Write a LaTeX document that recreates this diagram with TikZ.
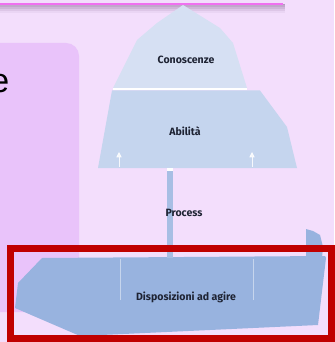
\documentclass[tikz,border=0pt]{standalone}
\usepackage{fontspec}
\setmainfont{Liberation Sans}
\newfontfamily\labelfont{Fira Sans}
\usetikzlibrary{arrows.meta}
\definecolor{slidebg}{HTML}{F3DEFC}
\definecolor{panelbg}{HTML}{E9C3FA}
\definecolor{topline}{HTML}{F070F0}
\definecolor{tipice}{HTML}{D6E0F3}
\definecolor{midice}{HTML}{C5D5EE}
\definecolor{baseice}{HTML}{98B3DF}
\definecolor{stemice}{HTML}{A7BEE4}
\definecolor{frame}{HTML}{C00000}
\definecolor{labeltext}{HTML}{1E2333}
\tikzset{
  icelabel/.style={font=\labelfont\bfseries\fontsize{9}{11}\selectfont, text=labeltext, inner sep=0pt},
  uparrow/.style={white, opacity=0.85, line width=0.6pt, -{Triangle[width=4.5pt,length=4.5pt]}}
}
\begin{document}
\begin{tikzpicture}[x=0.03cm,y=-0.03cm]
    \useasboundingbox (0,0) rectangle (334,342);
    \fill[slidebg] (0,0) rectangle (334,342);
    % header line and its shadow
    \foreach \d/\o in {5/0.35,7/0.3,9/0.25,11/0.18,13/0.1}
        \fill[black!30!panelbg, opacity=\o] (0,4.5) rectangle (285,\d);
    \fill[topline] (0,3) rectangle (283,4.6);
    % left panel, word cut off
    \fill[panelbg, rounded corners=11] (-20,43) rectangle (79,312);
    \begin{scope}
        \clip (0,0) rectangle (334,342);
        \node[anchor=east, inner sep=0pt, font=\fontsize{29}{30}\selectfont] (word) at (9.5,84) {e};
    \end{scope}
    % iceberg: tip
    \fill[tipice] (183,5) -- (220,28) -- (233,43) -- (247,88) -- (113,88) -- (137,40) -- (157,23) -- cycle;
    \fill[white] (113,88) rectangle (247,90.5);
    % iceberg: middle
    \fill[midice] (112,90.5) -- (260,90.5) -- (287,127) -- (297,168) -- (98,168) -- cycle;
    \draw[uparrow] (119,167) -- (119,152);
    \draw[uparrow] (252,167) -- (252,152);
    % iceberg: base
    \fill[baseice] (42,258) -- (325,256) -- (326,258) -- (318,325) -- (80,336) -- (15,308) -- (18,283) -- cycle;
    \fill[baseice] (306,229) -- (313,231) -- (320,235) -- (323,247) -- (322,258) -- (306,258) -- cycle;
    \draw[white, opacity=0.45, line width=0.4pt] (120,259) -- (120,300) (253,259) -- (253,300);
    % stem between the layers
    \coordinate (stemtop) at (170,169);
    \coordinate (stembot) at (170,258);
    \draw[stemice, line width=5.5] (stemtop) -- (stembot);
    \fill[white] (167,168) rectangle (173,171);
    % labels
    \node[icelabel] (tip) at (186,60) {Conoscenze};
    \node[icelabel] (mid) at (185,131) {Abilità};
    \node[icelabel] (proc) at (184,213) {Process};
    \node[icelabel] (base) at (186,297) {Disposizioni ad agire};
    % highlight frame
    \draw[frame, line width=7*0.03cm] (10,248) rectangle (331,338);
\end{tikzpicture}
\end{document}
